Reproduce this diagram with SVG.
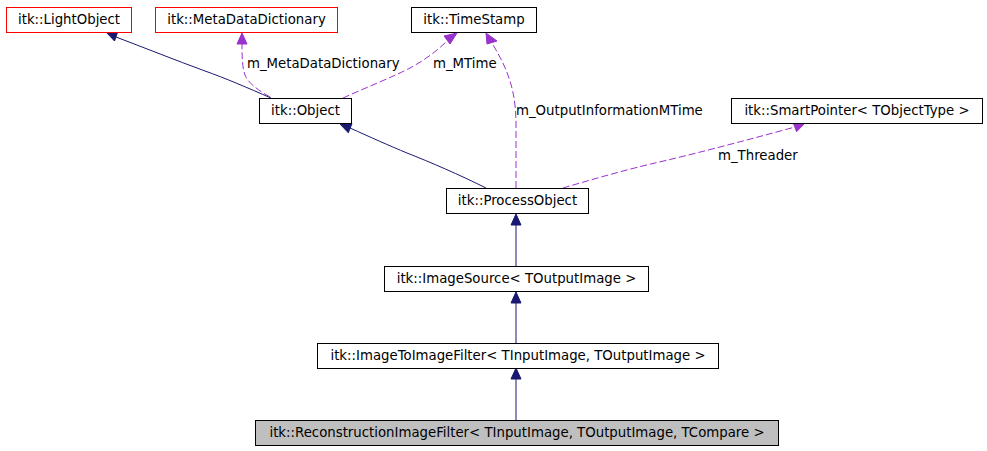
<svg xmlns="http://www.w3.org/2000/svg" width="987" height="451" viewBox="0 0 987 451">
<style>
text{font-family:"DejaVu Sans","Liberation Sans",sans-serif;font-size:13.3px;fill:#000}
.n{text-anchor:middle}
.box{fill:#fff;stroke:#000;stroke-width:1}
.red{fill:#fff;stroke:#ff0000;stroke-width:1}
.cur{fill:#bfbfbf;stroke:#000;stroke-width:1}
.inh{fill:none;stroke:#191970;stroke-width:1}
.use{fill:none;stroke:#9a32cd;stroke-width:1;stroke-dasharray:7,3}
.ah{fill:#191970;stroke:#191970}
.ap{fill:#9a32cd;stroke:#9a32cd}
</style>
<rect width="987" height="451" fill="#fff"/>
<g id="edges">
<path class="inh" d="M271,98 C248,88 225,78 205,71 C175,60 145,48 116,37"/>
<polygon class="ah" points="106,32 118,31 114.5,41"/>
<path class="use" d="M270,97 C258,90 248,83 245,75 C242,67 242,55 242,43"/>
<polygon class="ap" points="242,33 237,44 247,44"/>
<text x="247" y="68">m_MetaDataDictionary</text>
<path class="use" d="M343,98 C365,88 395,76 410,68 C425,60 438,50 447,41"/>
<polygon class="ap" points="457,33 450,44 444,36"/>
<text x="433" y="68">m_MTime</text>
<path class="inh" d="M486,188 C460,175 430,162 407,153 C390,146 370,137 350,128"/>
<polygon class="ah" points="340,124 352,123.6 348.3,132.8"/>
<path class="use" d="M516,188 L516,125 C516,100 512,85 506,70 C502,60 496,50 492,43"/>
<polygon class="ap" points="486,33 487,44 497,41"/>
<text x="516" y="115">m_OutputInformationMTime</text>
<path class="use" d="M563,188 C590,180 625,170 655,163 C690,155 740,142 795,127"/>
<polygon class="ap" points="805,123 796.6,131.7 793,122.4"/>
<text x="718" y="160">m_Threader</text>
<path class="inh" d="M516,267 L516,224"/>
<polygon class="ah" points="516,214 511,225 521,225"/>
<path class="inh" d="M516,343 L516,302"/>
<polygon class="ah" points="516,292 511,303 521,303"/>
<path class="inh" d="M516,420 L516,379"/>
<polygon class="ah" points="516,368 511,379 521,379"/>
</g>
<g id="LightObject"><rect class="red" x="6.5" y="7.5" width="125" height="25"/><text class="n" x="69" y="24">itk::LightObject</text></g>
<g id="MetaDataDictionary"><rect class="red" x="155.5" y="7.5" width="182" height="25"/><text class="n" x="246.5" y="24">itk::MetaDataDictionary</text></g>
<g id="TimeStamp"><rect class="box" x="411.5" y="7.5" width="125" height="25"/><text class="n" x="474" y="24">itk::TimeStamp</text></g>
<g id="Object"><rect class="box" x="259.5" y="98.5" width="92" height="25"/><text class="n" x="305.5" y="115">itk::Object</text></g>
<g id="SmartPointer"><rect class="box" x="731.5" y="98.5" width="251" height="25"/><text class="n" x="857" y="115">itk::SmartPointer&lt; TObjectType &gt;</text></g>
<g id="ProcessObject"><rect class="box" x="446.5" y="188.5" width="142" height="25"/><text class="n" x="517.5" y="205">itk::ProcessObject</text></g>
<g id="ImageSource"><rect class="box" x="384.5" y="266.5" width="264" height="25"/><text class="n" x="516.5" y="283">itk::ImageSource&lt; TOutputImage &gt;</text></g>
<g id="ImageToImageFilter"><rect class="box" x="317.5" y="343.5" width="401" height="25"/><text class="n" x="518" y="360">itk::ImageToImageFilter&lt; TInputImage, TOutputImage &gt;</text></g>
<g id="ReconstructionImageFilter"><rect class="cur" x="255.5" y="420.5" width="523" height="25"/><text class="n" x="517" y="437">itk::ReconstructionImageFilter&lt; TInputImage, TOutputImage, TCompare &gt;</text></g>
</svg>
